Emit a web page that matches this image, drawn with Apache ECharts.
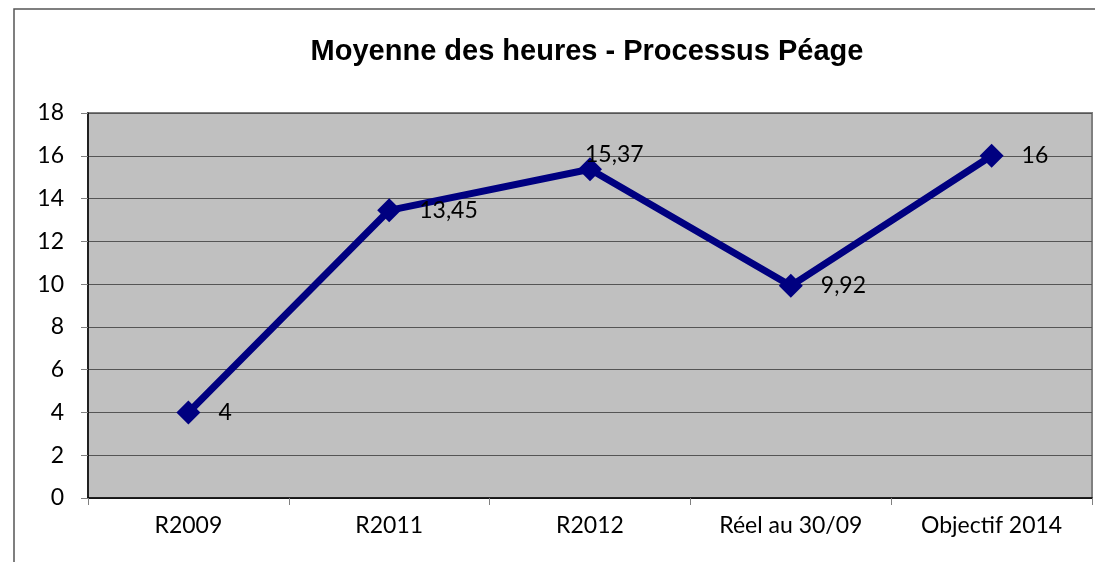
<!DOCTYPE html>
<html>
<head>
<meta charset="utf-8">
<script src="https://cdn.jsdelivr.net/npm/echarts@6/dist/echarts.min.js"></script>
<style>
  html, body { margin: 0; padding: 0; background: #fff; }
  #main { width: 1095px; height: 562px; }
</style>
</head>
<body>
<div id="main"></div>
<script>
// données du graphique
var categories = ['R2009', 'R2011', 'R2012', 'Réel au 30/09', 'Objectif 2014'];
var heures = [4, 13.45, 15.37, 9.92, 16];
var etiquettes = ['4', '13,45', '15,37', '9,92', '16'];

var chart = echarts.init(document.getElementById('main'));

var points = heures.map(function (v, i) {
    var item = { value: v };
    if (i === 2) {
        // étiquette un peu au-dessus pour R2012
        item.label = { offset: [-35, -15] };
    }
    return item;
});

var option = {
    animation: false,
    backgroundColor: '#ffffff',
    title: {
        text: 'Moyenne des heures - Processus Péage',
        left: 582,
        top: 32,
        textAlign: 'center',
        textStyle: {
            fontFamily: 'Liberation Sans',
            fontWeight: 'bold',
            fontSize: 29,
            color: '#000'
        }
    },
    graphic: [{
        type: 'rect',
        shape: { x: 14, y: 9, width: 1100, height: 600 },
        style: { fill: 'none', stroke: '#555', lineWidth: 1.5 },
        z: -1
    }],
    grid: {
        left: 88,
        right: 3,
        top: 113,
        bottom: 64,
        show: true,
        backgroundColor: '#c0c0c0',
        borderColor: '#808080',
        borderWidth: 2
    },
    xAxis: {
        type: 'category',
        data: categories,
        boundaryGap: true,
        axisLine: { lineStyle: { color: '#000', width: 1.5 } },
        axisTick: { show: true, length: 7, lineStyle: { color: '#808080' } },
        axisLabel: {
            fontFamily: 'Lato',
            fontSize: 23,
            color: '#000',
            margin: 16
        }
    },
    yAxis: {
        type: 'value',
        min: 0,
        max: 18,
        interval: 2,
        axisLine: { show: true, lineStyle: { color: '#000', width: 1.5 } },
        axisTick: { show: true, length: 7, lineStyle: { color: '#808080' } },
        axisLabel: {
            fontFamily: 'Lato',
            fontSize: 23,
            color: '#000',
            margin: 24
        },
        splitLine: { lineStyle: { color: '#555', width: 1 } }
    },
    series: [{
        type: 'line',
        data: points,
        symbol: 'diamond',
        symbolSize: 24,
        lineStyle: { color: '#000080', width: 7 },
        itemStyle: { color: '#000080' },
        label: {
            show: true,
            position: 'right',
            distance: 18,
            fontFamily: 'Lato',
            fontSize: 23,
            color: '#000',
            formatter: function (p) { return etiquettes[p.dataIndex]; }
        }
    }]
};

chart.setOption(option);
</script>
</body>
</html>
